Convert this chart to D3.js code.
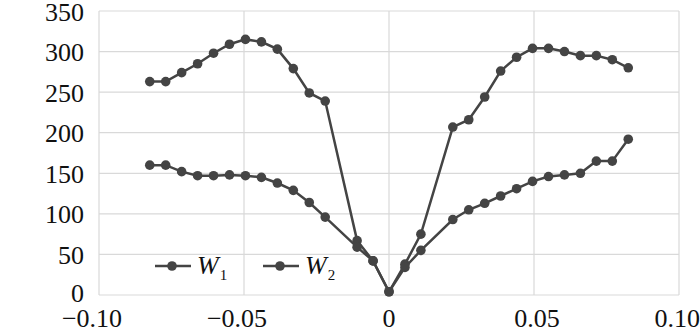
<!DOCTYPE html>
<html>
<head>
<meta charset="utf-8">
<script src="https://cdn.jsdelivr.net/npm/d3@7"></script>
<style>
  body { margin: 0; background: #fff; }
</style>
</head>
<body>
<div id="chart"></div>
<script>
// x positions (shared by both series)
let xValues = [-0.0825, -0.077, -0.0715, -0.066, -0.0605, -0.055, -0.0495, -0.044, -0.0385, -0.033, -0.0275, -0.022,
    -0.011, -0.0055, 0, 0.0055, 0.011,
    0.022, 0.0275, 0.033, 0.0385, 0.044, 0.0495, 0.055, 0.0605, 0.066, 0.0715, 0.077, 0.0825];

let w1Values = [263, 263, 274, 285, 298, 309, 315, 312, 303, 279, 249, 239,
    67, 42, 4, 38, 75,
    207, 216, 244, 276, 293, 304, 304, 300, 295, 295, 290, 280];

let w2Values = [160, 160, 152, 147, 147, 148, 147, 145, 138, 129, 114, 96,
    59, 42, 4, 34, 55,
    93, 105, 113, 122, 131, 140, 146, 148, 150, 165, 165, 192];

let xTicks = [-0.10, -0.05, 0, 0.05, 0.10];
let xTickLabels = ["\u22120.10", "\u22120.05", "0", "0.05", "0.10"];
let yTicks = [0, 50, 100, 150, 200, 250, 300, 350];
let seriesNames = ["1", "2"];

let serif = "'Liberation Serif', 'Times New Roman', serif";

function getConfig(){
    let width = 700;
    let height = 332;
    let margin = { top: 11, bottom: 37, left: 99, right: 21 };
    let bodyWidth = width - margin.left - margin.right;
    let bodyHeight = height - margin.top - margin.bottom;
    let svg = d3.select("#chart")
        .append("svg")
        .attr("width", width)
        .attr("height", height);
    let container = svg.append("g")
        .attr("transform", "translate(" + [margin.left, margin.top] + ")");
    return { width, height, margin, bodyWidth, bodyHeight, svg, container };
}

function getScales(config){
    let xScale = d3.scaleLinear().domain([-0.10, 0.10]).range([0, config.bodyWidth]);
    let yScale = d3.scaleLinear().domain([0, 350]).range([config.bodyHeight, 0]);
    return { xScale, yScale };
}

function drawChart(config, scales){
    let { container, bodyWidth, bodyHeight, margin, width } = config;
    let { xScale, yScale } = scales;
    let gridColor = "#d9d9d9";
    let ink = "#444";

    // horizontal grid
    container.append("g")
        .selectAll("line")
        .data(yTicks)
        .enter()
        .append("line")
        .attr("x1", 0).attr("x2", bodyWidth)
        .attr("y1", d => yScale(d)).attr("y2", d => yScale(d))
        .style("stroke", gridColor)
        .style("stroke-width", 1.2);

    // vertical grid
    container.append("g")
        .selectAll("line")
        .data(xTicks)
        .enter()
        .append("line")
        .attr("x1", d => xScale(d)).attr("x2", d => xScale(d))
        .attr("y1", 0).attr("y2", bodyHeight)
        .style("stroke", gridColor)
        .style("stroke-width", 1.2);

    // y labels
    container.append("g")
        .selectAll("text")
        .data(yTicks)
        .enter()
        .append("text")
        .attr("x", -15)
        .attr("y", d => yScale(d) + (d == 0 ? 6.5 : 9.5))
        .attr("text-anchor", "end")
        .attr("font-family", serif)
        .style("font-family", serif)
        .style("font-size", "26px")
        .style("fill", "#111")
        .text(d => d);

    // x labels
    container.append("g")
        .selectAll("text")
        .data(xTicks)
        .enter()
        .append("text")
        .attr("x", (d, i) => xScale(d) + (d < 0 ? -7 : (d > 0 ? 3 : 0)))
        .attr("y", bodyHeight + 32)
        .attr("text-anchor", "middle")
        .attr("font-family", serif)
        .style("font-family", serif)
        .style("font-size", "26px")
        .style("fill", "#111")
        .text((d, i) => xTickLabels[i])
        .each(function(){
            // keep the last label inside the picture
            let box = this.getBBox();
            let over = margin.left + box.x + box.width - width;
            if(over > 0){
                d3.select(this).attr("x", +d3.select(this).attr("x") - over);
            }
        });

    let line = d3.line()
        .x((d, i) => xScale(xValues[i]))
        .y(d => yScale(d));

    [w1Values, w2Values].forEach(values => {
        container.append("path")
            .datum(values)
            .attr("d", line)
            .style("fill", "none")
            .style("stroke", ink)
            .style("stroke-width", 2.5);
        container.append("g")
            .selectAll("circle")
            .data(values)
            .enter()
            .append("circle")
            .attr("cx", (d, i) => xScale(xValues[i]))
            .attr("cy", d => yScale(d))
            .attr("r", 4.8)
            .style("fill", ink);
    });
}

function legend(config){
    let { svg } = config;
    let items = [{ x: 155, name: seriesNames[0] }, { x: 263, name: seriesNames[1] }];
    let y = 266;
    items.forEach(item => {
        let g = svg.append("g").attr("transform", "translate(" + [item.x, y] + ")");
        g.append("line")
            .attr("x1", 0).attr("x2", 36)
            .attr("y1", 0).attr("y2", 0)
            .style("stroke", "#444")
            .style("stroke-width", 2.5);
        g.append("circle")
            .attr("cx", 17).attr("cy", 0).attr("r", 4.8)
            .style("fill", "#444");
        let t = g.append("text")
            .attr("x", 42)
            .attr("y", 8)
            .attr("font-family", serif)
            .style("font-family", serif)
            .style("fill", "#111")
            .style("font-size", "26px");
        t.append("tspan")
            .style("font-style", "italic")
            .text("W");
        t.append("tspan")
            .attr("dy", 6)
            .attr("dx", 1)
            .style("font-size", "15px")
            .text(item.name);
    });
}

let config = getConfig();
let scales = getScales(config);
drawChart(config, scales);
legend(config);
</script>
</body>
</html>
